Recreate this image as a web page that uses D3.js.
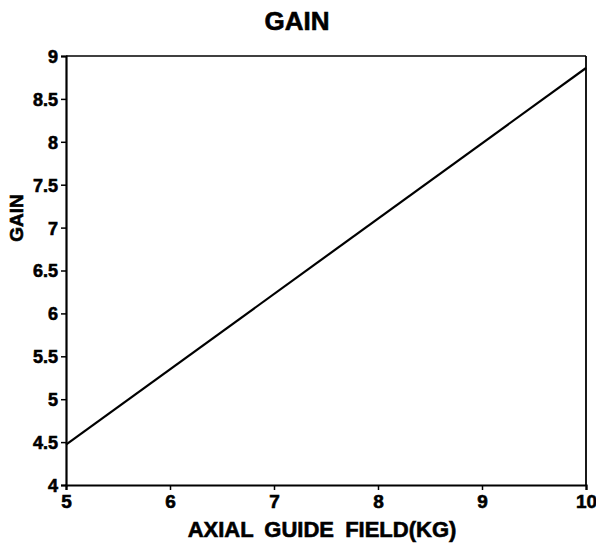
<!DOCTYPE html>
<html>
<head>
<meta charset="utf-8">
<script src="https://cdn.jsdelivr.net/npm/d3@7"></script>
<style>
  body { margin: 0; background: #fff; }
  text { font-family: "Liberation Sans", Arial, sans-serif; font-weight: bold; fill: #000; stroke: #000; stroke-width: 0.6px; }
</style>
</head>
<body>
<div id="chart_div"></div>
<script>
// data
const fieldKG = [5, 10];
const gain = [4.47, 8.86];
const xTicks = [5, 6, 7, 8, 9, 10];
const yTicks = [4, 4.5, 5, 5.5, 6, 6.5, 7, 7.5, 8, 8.5, 9];

const width = 596;
const height = 545;
const plotLeft = 66, plotRight = 586, plotTop = 56, plotBottom = 485;

const x = d3.scaleLinear().domain([5, 10]).range([plotLeft, plotRight]);
const y = d3.scaleLinear().domain([4, 9]).range([plotBottom, plotTop]);

const svg = d3.select("#chart_div")
    .append("svg")
    .attr("width", width)
    .attr("height", height);

// frame (top and right)
svg.append("line")
    .attr("x1", plotLeft).attr("x2", plotRight)
    .attr("y1", plotTop).attr("y2", plotTop)
    .attr("stroke", "#000").attr("stroke-width", 1.5);
svg.append("line")
    .attr("x1", plotRight).attr("x2", plotRight)
    .attr("y1", plotTop).attr("y2", plotBottom)
    .attr("stroke", "#000").attr("stroke-width", 1.8);

const xAxis = svg.append("g")
    .attr("transform", `translate(0,${plotBottom})`)
    .call(d3.axisBottom(x).tickValues(xTicks).tickSize(5).tickPadding(5).tickFormat(d3.format("d")));

const yAxis = svg.append("g")
    .attr("transform", `translate(${plotLeft},0)`)
    .call(d3.axisLeft(y).tickValues(yTicks).tickSize(5).tickPadding(3).tickFormat(d => String(d)));

[xAxis, yAxis].forEach(g => {
    g.select(".domain").attr("stroke", "#000").attr("stroke-width", 2.2);
    g.selectAll(".tick line").attr("stroke", "#000").attr("stroke-width", 1.5);
    g.selectAll(".tick text")
        .style("font-family", '"Liberation Sans", Arial, sans-serif')
        .style("font-weight", "bold")
        .attr("fill", "#000");
});
xAxis.selectAll(".tick text").style("font-size", "19px");
yAxis.selectAll(".tick text").style("font-size", "18px").attr("dy", "0.36em");

// the gain line
const line = d3.line()
    .x((d, i) => x(fieldKG[i]))
    .y(d => y(d));

svg.append("path")
    .datum(gain)
    .attr("d", line)
    .attr("fill", "none")
    .attr("stroke", "#000")
    .attr("stroke-width", 2.2);

// titles
svg.append("text")
    .attr("x", 297)
    .attr("y", 30)
    .attr("text-anchor", "middle")
    .style("font-size", "26px")
    .text("GAIN");

svg.append("text")
    .attr("x", 322)
    .attr("y", 537)
    .attr("text-anchor", "middle")
    .style("font-size", "22px")
    .style("word-spacing", "5px")
    .text("AXIAL GUIDE FIELD(KG)");

svg.append("text")
    .attr("transform", "translate(23,218) rotate(-90)")
    .attr("text-anchor", "middle")
    .style("font-size", "19px")
    .text("GAIN");
</script>
</body>
</html>
